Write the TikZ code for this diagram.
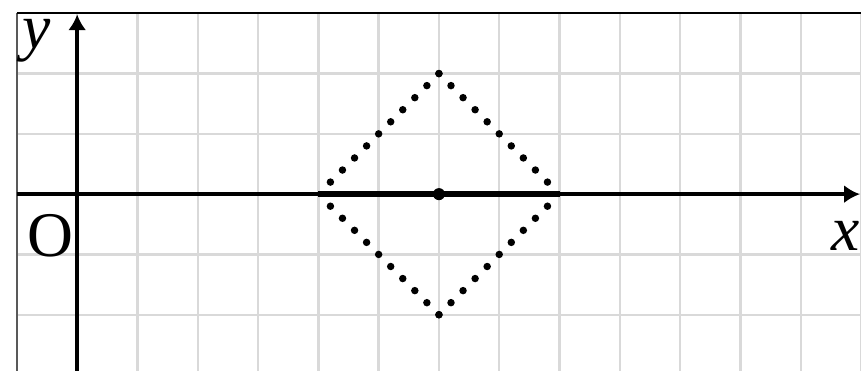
\documentclass[tikz,border=0pt]{standalone}
\usepackage{fontspec}
\setmainfont{Liberation Serif}
\usetikzlibrary{arrows.meta}
\begin{document}
\begin{tikzpicture}[font=\fontsize{30}{30}\selectfont]
\useasboundingbox (-1.28,-2.93) rectangle (13,3.22);
\draw[gray!30,line width=1.1pt] (-1,-2.93) grid (13,3);
\draw[black!65,line width=0.9pt] (-1,-2.93)--(-1,3);
\draw[black,line width=0.9pt] (-1,3)--(13,3);
\coordinate (o) at (0,0);
\coordinate (c) at (6,0);
\coordinate (l) at (4,0);
\coordinate (r) at (8,0);
\draw[line width=1.8pt,-{Latex[length=0.26cm,width=0.3cm]}] (-1,0)--(12.98,0);
\draw[line width=1.8pt,-{Latex[length=0.26cm,width=0.3cm]}] (0,-2.93)--(0,2.98);
\draw[line width=2.8pt] (l)--(r);
\foreach \i in {0,...,9}{
  \fill (6-0.2*\i,2-0.2*\i) circle (0.062);
  \fill (6+0.2*\i,2-0.2*\i) circle (0.062);
  \fill (6-0.2*\i,-2+0.2*\i) circle (0.062);
  \fill (6+0.2*\i,-2+0.2*\i) circle (0.062);
}
\fill (c) circle (0.1);
\node[name=ylab,anchor=base] at (-0.68,2.42){\textit{y}};
\node[name=olab,anchor=base] at (-0.45,-1.04){O};
\node[name=xlab,anchor=base] at (12.74,-0.93){\textit{x}};
\end{tikzpicture}
\end{document}
